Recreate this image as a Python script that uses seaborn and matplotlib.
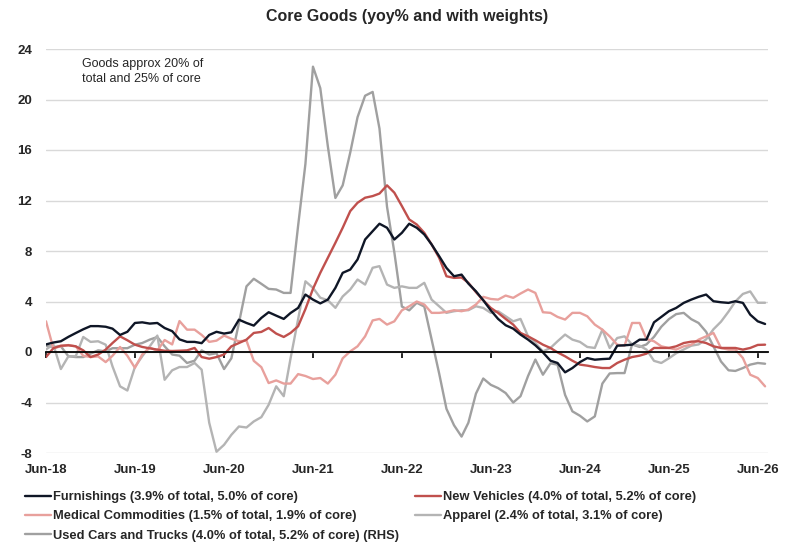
import pandas as pd
import matplotlib
matplotlib.use('Agg')
import matplotlib.pyplot as plt
import matplotlib.dates as mdates
import seaborn as sns

# monthly, Jun-18 .. Jul-26
months = pd.date_range('2018-06-01', periods=98, freq='MS')
tick_dates = pd.date_range('2018-06-01', '2026-06-01', freq='12MS')
tick_labels = [d.strftime('%b-%y') for d in tick_dates]

furnishings = [0.6, 0.75, 0.85, 1.2, 1.5, 1.8, 2.05, 2.05, 2.0, 1.85,
               1.35, 1.6, 2.3, 2.35, 2.25, 2.3, 1.9, 1.65, 1.0, 0.8,
               0.8, 0.7, 1.35, 1.6, 1.46, 1.56, 2.56, 2.3, 2.09, 2.7,
               3.15, 2.88, 2.62, 3.09, 3.49, 4.55, 4.15, 3.85, 4.15, 5.08,
               6.27, 6.53, 7.33, 8.91, 9.57, 10.16, 9.84, 8.91, 9.44, 10.16,
               9.84, 9.31, 8.52, 7.59, 6.66, 6.0, 6.13, 5.42, 4.81, 4.1,
               3.3, 2.62, 2.12, 1.85, 1.38, 0.98, 0.53, -0.03, -0.69, -0.87,
               -1.61, -1.27, -0.8, -0.48, -0.61, -0.56, -0.53, 0.5, 0.53, 0.58,
               0.98, 0.98, 2.35, 2.78, 3.23, 3.49, 3.89, 4.15, 4.37, 4.55,
               4.02, 3.94, 3.89, 4.02, 3.89, 2.96, 2.43, 2.22]

new_vehicles = [-0.4, 0.3, 0.5, 0.53, 0.45, 0.13, -0.4, -0.2, 0.19, 0.71,
                1.24, 0.93, 0.58, 0.4, 0.29, 0.19, 0.1, 0.08, 0.1, 0.13,
                0.32, -0.4, -0.53, -0.4, -0.2, 0.45, 0.71, 0.98, 1.51, 1.59,
                1.9, 1.46, 1.19, 1.51, 2.04, 3.4, 5.0, 6.27, 7.46, 8.65,
                9.84, 11.16, 11.82, 12.22, 12.35, 12.55, 13.2, 12.62, 11.56, 10.5,
                10.1, 9.44, 8.52, 7.46, 6.0, 5.87, 5.9, 5.48, 4.74, 4.1,
                3.49, 3.1, 2.62, 2.17, 1.51, 1.24, 0.93, 0.58, 0.32, -0.03,
                -0.34, -0.69, -1.0, -1.08, -1.19, -1.27, -1.27, -0.87, -0.61, -0.4,
                -0.29, -0.13, 0.32, 0.32, 0.32, 0.45, 0.71, 0.82, 0.85, 0.71,
                0.45, 0.32, 0.32, 0.32, 0.19, 0.32, 0.56, 0.58]

medical = [2.43, 0.3, 0.45, 0.55, 0.45, -0.3, -0.4, -0.35, -0.8, -0.3,
           0.4, -0.3, -1.25, -0.2, 0.35, 0.1, 0.95, 0.6, 2.45, 1.77,
           1.77, 1.35, 0.8, 0.9, 1.3, 1.05, 0.85, 0.9, -0.7, -1.2,
           -2.46, -2.25, -2.5, -2.5, -1.75, -1.9, -2.14, -2.06, -2.5, -1.8,
           -0.5, 0.05, 0.45, 1.24, 2.5, 2.62, 2.17, 2.43, 3.3, 3.62,
           4.0, 3.76, 3.1, 3.1, 3.17, 3.31, 3.23, 3.36, 3.76, 4.37,
           4.2, 4.15, 4.47, 4.29, 4.63, 4.95, 4.68, 3.15, 3.1, 2.78,
           2.57, 3.1, 3.1, 2.83, 2.17, 1.77, 1.24, 0.58, 0.5, 2.3,
           2.3, 1.03, 0.85, 0.45, 0.32, 0.19, 0.45, 0.58, 0.98, 1.24,
           1.51, 0.32, 0.19, 0.19, -0.48, -1.8, -2.06, -2.72]

apparel = [0.2, 0.6, -1.35, -0.34, -0.34, 1.19, 0.8, 0.85, 0.58, -1.14,
           -2.72, -3.05, -1.19, -0.34, 0.45, 1.3, -2.2, -1.45, -1.19, -1.19,
           -0.87, -1.4, -5.6, -7.9, -7.35, -6.56, -5.9, -5.98, -5.5, -5.16,
           -4.18, -2.72, -3.5, -0.5, 2.6, 5.6, 5.08, 4.3, 4.1, 3.5,
           4.4, 4.95, 5.74, 5.34, 6.67, 6.8, 5.34, 5.08, 5.2, 5.08,
           5.08, 5.48, 4.15, 3.62, 3.1, 3.23, 3.31, 3.31, 3.62, 3.49,
           3.1, 3.23, 2.83, 2.43, 2.62, 1.24, 0.71, 0.05, 0.32, 0.85,
           1.38, 0.98, 0.8, 0.4, 0.32, 1.77, 0.32, 1.11, 1.24, 0.6,
           0.5, 0.19, -0.7, -0.87, -0.5, -0.1, 0.2, 0.5, 0.6, 1.0,
           1.8, 2.4, 3.2, 4.0, 4.6, 4.8, 3.9, 3.9]

used_cars = [0.5, 0.4, 0.45, -0.34, -0.4, -0.4, -0.13, 0.13, 0.05, 0.3,
             0.3, 0.3, 0.58, 0.71, 0.98, 1.19, 0.45, -0.2, -0.29, -0.87,
             -0.69, 0.13, -0.2, -0.1, -1.35, -0.5, 2.3, 5.2, 5.8, 5.4,
             5.0, 4.95, 4.68, 4.68, 10.0, 14.9, 22.6, 20.9, 16.3, 12.2,
             13.2, 15.8, 18.6, 20.3, 20.6, 17.7, 11.5, 7.9, 3.6, 3.3,
             3.9, 3.6, 1.0, -1.7, -4.5, -5.8, -6.7, -5.6, -3.3, -2.1,
             -2.6, -2.86, -3.25, -4.0, -3.5, -1.9, -0.6, -1.8, -0.9, -1.0,
             -3.4, -4.7, -5.05, -5.5, -5.1, -2.5, -1.7, -1.67, -1.67, 0.6,
             0.4, 0.6, 1.2, 2.0, 2.6, 3.0, 3.1, 2.6, 2.3, 1.6,
             0.45, -0.75, -1.45, -1.5, -1.27, -1.0, -0.87, -0.93]

series_names = [
    'Used Cars and Trucks (4.0% of total, 5.2% of core) (RHS)',
    'Apparel (2.4% of total, 3.1% of core)',
    'Medical Commodities (1.5% of total, 1.9% of core)',
    'New Vehicles (4.0% of total, 5.2% of core)',
    'Furnishings (3.9% of total, 5.0% of core)',
]
series_values = [used_cars, apparel, medical, new_vehicles, furnishings]
colors = ['#a0a0a0', '#b4b4b4', '#e8a09c', '#c0504d', '#0f1626']

sns.set_style('white')
plt.rcParams['font.family'] = ['Liberation Sans', 'DejaVu Sans']
plt.rcParams['axes.unicode_minus'] = False

fig = plt.figure(figsize=(7.85, 5.47), dpi=100)
ax = fig.add_axes([46 / 785, 94 / 547, 722 / 785, 404 / 547])

handles = {}
for name, vals, col in zip(series_names, series_values, colors):
    d = pd.DataFrame({'date': months, 'value': vals})
    sns.lineplot(data=d, x='date', y='value', ax=ax, color=col, linewidth=1.7, legend=False)
    handles[name] = ax.lines[-1]

ax.set_ylim(-8, 24)
ax.set_yticks(range(-8, 25, 4))
ax.set_xlim(pd.Timestamp('2018-06-01'), pd.Timestamp('2026-07-13'))
ax.grid(axis='y', color='#d9d9d9', linewidth=1.0)
ax.grid(axis='x', visible=False)
ax.set_axisbelow(True)
ax.set_xlabel('')
ax.set_ylabel('')

for s in ['top', 'right', 'left']:
    ax.spines[s].set_visible(False)
ax.spines['bottom'].set_position(('data', 0))
ax.spines['bottom'].set_color('black')
ax.spines['bottom'].set_linewidth(1.3)

ax.set_xticks(tick_dates)
ax.tick_params(axis='x', bottom=True, direction='out', length=4, width=1.2,
               color='black', labelbottom=False)
ax.tick_params(axis='y', left=False, length=0, pad=10, labelsize=9.5)
for t in ax.get_yticklabels():
    t.set_fontweight('bold')

# date labels along the bottom edge, ticks stay on the zero line
sec = ax.secondary_xaxis('bottom')
sec.set_xticks(mdates.date2num(tick_dates), labels=tick_labels)
sec.tick_params(length=0, pad=8, labelsize=9.5)
sec.spines['bottom'].set_visible(False)
for t in sec.get_xticklabels():
    t.set_fontweight('bold')

fig.text(407 / 785, 1 - 17 / 547, 'Core Goods (yoy% and with weights)',
         ha='center', va='center', fontsize=11.5, fontweight='bold')
fig.text(82 / 785, 1 - 58 / 547, 'Goods approx 20% of\ntotal and 25% of core',
         ha='left', va='top', fontsize=9, linespacing=1.35)

left_names = [series_names[4], series_names[2], series_names[0]]
right_names = [series_names[3], series_names[1]]
leg_kw = dict(loc='upper left', frameon=False, borderpad=0, borderaxespad=0,
              handlelength=2.0, handletextpad=0.2, labelspacing=0.58,
              prop={'size': 9.25, 'weight': 'bold'})
fig.legend([handles[n] for n in left_names], left_names,
           bbox_to_anchor=(25 / 785, 1 - 491 / 547), **leg_kw)
fig.legend([handles[n] for n in right_names], right_names,
           bbox_to_anchor=(415 / 785, 1 - 491 / 547), **leg_kw)

fig.savefig('out.png', dpi=100)
